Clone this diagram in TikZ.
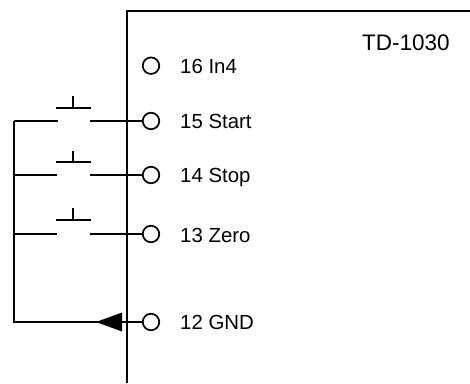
\documentclass[tikz,border=0pt]{standalone}
\usepackage{fontspec}
\setmainfont{Liberation Sans}
\tikzset{
  x=1pt,y=-1pt,
  wire/.style={draw=black,line width=1.7pt},
  terminal/.style={circle,draw=black,line width=1.7pt,fill=white,minimum size=16.5pt,inner sep=0pt},
  pinlabel/.style={anchor=base west,inner sep=0pt,font=\fontsize{20.4pt}{24pt}\selectfont,text=black}
}
\begin{document}
\begin{tikzpicture}
\useasboundingbox (0,0) rectangle (470,383);
\coordinate (boxBL) at (127,383);
\coordinate (boxTL) at (127,11);
\coordinate (boxTR) at (470,11);
\draw[wire,line cap=butt] (boxBL) -- (boxTL) -- (boxTR);
\node[anchor=base west,inner sep=0pt,font=\fontsize{22.5pt}{26pt}\selectfont,text=black] (title) at (362,50) {TD-1030};
% left bus corners
\coordinate (b15) at (14,121);
\coordinate (b14) at (14,175);
\coordinate (b13) at (14,234);
\coordinate (b12) at (14,322);
% terminals
\node[terminal] (t16) at (151,65.7) {};
\node[terminal] (t15) at (151,121) {};
\node[terminal] (t14) at (151,175) {};
\node[terminal] (t13) at (151,234) {};
\node[terminal] (t12) at (151,322) {};
\node[pinlabel] (l16) at (180,73) {16 In4};
\node[pinlabel] (l15) at (180,128) {15 Start};
\node[pinlabel] (l14) at (180,182.5) {14 Stop};
\node[pinlabel] (l13) at (180,242) {13 Zero};
\node[pinlabel] (l12) at (180,329.5) {12 GND};
% bus
\draw[wire,line join=miter] (b15) -- (b12) -- (t12);
% switches
\foreach \n/\y/\lx/\by/\sy in {15/121/57.5/108/96,14/175/57/162/151,13/234/57/220/208}{
  \coordinate (sl\n) at (\lx,\y);
  \coordinate (sr\n) at (90,\y);
  \draw[wire] (b\n) -- (sl\n);
  \draw[wire] (sr\n) -- (t\n);
  \draw[wire] (56,\by) -- (91,\by);
  \draw[wire] (73,\by) -- (73,\sy);
}
% arrow
\coordinate (atip) at (96,322);
\coordinate (au) at (122,312.5);
\coordinate (ad) at (122,331.5);
\fill[black] (atip) -- (au) -- (ad) -- cycle;
\end{tikzpicture}
\end{document}
